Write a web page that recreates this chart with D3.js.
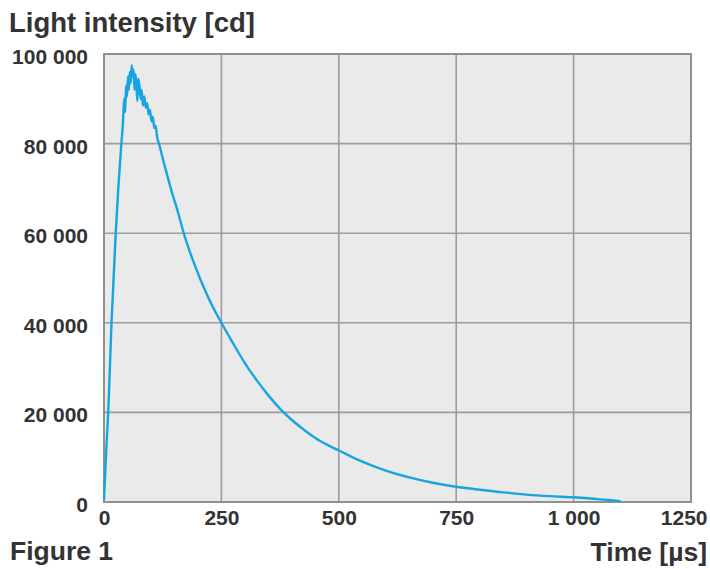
<!DOCTYPE html>
<html>
<head>
<meta charset="utf-8">
<script src="https://cdn.jsdelivr.net/npm/d3@7"></script>
<style>
  html, body { margin: 0; padding: 0; background: #ffffff; }
  svg { display: block; }
  text { font-family: "Liberation Sans", Arial, Helvetica, sans-serif; font-weight: bold; fill: #333333; }
</style>
</head>
<body>
<svg id="chart" width="710" height="569"></svg>
<script>
// ---- data ----
const timeUs = [0, 2, 5, 9, 16, 25, 31, 37, 40, 43, 45, 47, 49, 51, 53, 55, 57, 59, 61, 63, 65, 67, 69, 71, 73, 76, 78, 80, 83, 86, 89, 92, 95, 98, 101, 104, 107, 110, 113, 117, 122, 128, 135, 145, 158, 169, 185, 204, 225, 250, 275, 300, 325, 350, 375, 400, 425, 450, 475, 500, 525, 550, 600, 650, 700, 750, 800, 850, 900, 950, 1000, 1050, 1080, 1100];
const intensityCd = [500, 5000, 12000, 20000, 40000, 60000, 71000, 80000, 84000, 90000, 87000, 93000, 90500, 95000, 92000, 96000, 93500, 97500, 95000, 96500, 92000, 95500, 93000, 89500, 94500, 92500, 90000, 92000, 88500, 90500, 88000, 89000, 86500, 87500, 85000, 86000, 83500, 84000, 81500, 80000, 78000, 75500, 72800, 69000, 64500, 60300, 55200, 50000, 45000, 40000, 35400, 31000, 27200, 23800, 20800, 18300, 16200, 14300, 12800, 11500, 10200, 9000, 7000, 5500, 4300, 3400, 2750, 2150, 1650, 1300, 1050, 650, 400, 200];
const xTickValues = [0, 250, 500, 750, 1000, 1250];
const yTickValues = [0, 20000, 40000, 60000, 80000, 100000];
const titleText = "Light intensity [cd]";
const xAxisTitle = "Time [µs]";
const figureLabel = "Figure 1";

// ---- layout ----
const W = 710, H = 569;
const plot = { left: 104, top: 54, right: 691, bottom: 502 };
const svg = d3.select("#chart");

const x = d3.scaleLinear().domain([0, 1250]).range([plot.left, plot.right]);
const y = d3.scaleLinear().domain([0, 100000]).range([plot.bottom, plot.top]);
const fmt = d3.formatLocale({ decimal: ".", thousands: " ", grouping: [3], currency: ["", ""] }).format(",");

// background
svg.append("rect")
  .attr("x", plot.left).attr("y", plot.top)
  .attr("width", plot.right - plot.left).attr("height", plot.bottom - plot.top)
  .attr("fill", "#eaeaea");

// gridlines
const grid = svg.append("g").attr("stroke", "#9c9c9c").attr("stroke-width", 1.6);
grid.selectAll("line.v").data(xTickValues.slice(1, -1)).join("line")
  .attr("class", "v")
  .attr("x1", d => x(d)).attr("x2", d => x(d))
  .attr("y1", plot.top).attr("y2", plot.bottom);
grid.selectAll("line.h").data(yTickValues.slice(1, -1)).join("line")
  .attr("class", "h")
  .attr("x1", plot.left).attr("x2", plot.right)
  .attr("y1", d => y(d)).attr("y2", d => y(d));

// border
svg.append("rect")
  .attr("x", plot.left).attr("y", plot.top)
  .attr("width", plot.right - plot.left).attr("height", plot.bottom - plot.top)
  .attr("fill", "none").attr("stroke", "#8c8c8c").attr("stroke-width", 1.9);

// curve
const pts = timeUs.map((t, i) => [t, intensityCd[i]]);
svg.append("path")
  .datum(pts)
  .attr("fill", "none")
  .attr("stroke", "#17a5e2")
  .attr("stroke-width", 2.4)
  .attr("stroke-linejoin", "round")
  .attr("d", d3.line().x(d => x(d[0])).y(d => y(d[1])).curve(d3.curveMonotoneX));

// axes (labels via d3 axes)
const xAxis = svg.append("g")
  .attr("transform", `translate(0,${plot.bottom})`)
  .call(d3.axisBottom(x).tickValues(xTickValues).tickFormat(d => (d % 1000 === 0 && d > 0) ? fmt(d) : String(d)).tickSize(0).tickPadding(8));
xAxis.select(".domain").remove();
xAxis.selectAll("text")
  .attr("font-size", 21).attr("fill", "#333").attr("dy", "0.71em")
  .attr("font-family", null)
  .each(function(d) {
    if (d === 1250) d3.select(this).attr("text-anchor", "end").attr("x", W - 3 - x(d));
  });

const yAxis = svg.append("g")
  .attr("transform", `translate(${plot.left},0)`)
  .call(d3.axisLeft(y).tickValues(yTickValues).tickFormat(fmt).tickSize(0).tickPadding(16));
yAxis.select(".domain").remove();
yAxis.selectAll("text")
  .attr("font-size", 21).attr("fill", "#333").attr("dy", "0.45em")
  .attr("font-family", null);

// titles
svg.append("text").attr("x", 9).attr("y", 32).attr("font-size", 27.5).text(titleText);
svg.append("text").attr("x", 10).attr("y", 560).attr("font-size", 26.5).text(figureLabel);
svg.append("text").attr("x", W - 3).attr("y", 561).attr("font-size", 26.5).attr("text-anchor", "end").text(xAxisTitle);
</script>
</body>
</html>
